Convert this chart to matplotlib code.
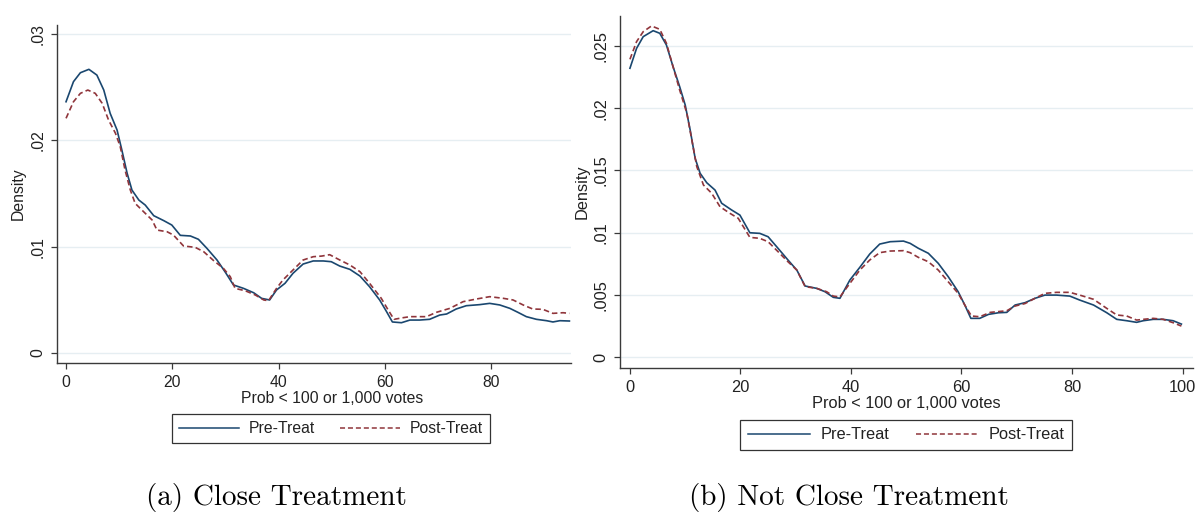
import matplotlib
matplotlib.use("Agg")
import matplotlib.pyplot as plt
from matplotlib.lines import Line2D

plt.rcParams['font.family'] = ['Liberation Sans', 'DejaVu Sans']

# ---------------- data ----------------
close_pre_x = [0.0, 1.4, 2.7, 4.3, 5.8, 7.1, 8.3, 9.6, 10.5, 11.5, 12.4, 13.7, 14.9, 16.5, 18.4, 19.9,
               21.5, 23.4, 24.9, 26.5, 28.4, 29.9, 31.5, 33.4, 35.3, 36.8, 38.3, 39.6, 41.2, 42.7, 44.6,
               46.5, 48.4, 49.9, 51.5, 53.4, 55.3, 57.1, 59.0, 60.3, 61.4, 63.1, 64.7, 66.5, 68.4, 70.3,
               71.6, 73.4, 75.3, 77.8, 79.7, 81.6, 83.5, 85.0, 86.6, 88.5, 90.4, 91.6, 92.9, 94.7]
close_pre = [.02364, .02553, .02637, .02669, .02615, .02474, .02255, .02098, .0191, .0169, .01533, .01439,
             .01392, .01292, .01245, .01204, .01107, .01101, .0107, .00985, .00875, .00765, .0064, .00608,
             .00567, .00514, .00499, .00593, .00656, .0075, .00837, .00866, .00866, .00859, .00818, .00787,
             .00724, .00624, .00499, .00389, .00292, .00285, .0031, .0031, .00317, .00357, .00367, .00414,
             .00445, .00455, .00467, .00452, .0042, .00383, .00342, .00317, .00304, .00292, .00304, .00301]

close_post_x = [0.0, 1.4, 2.7, 4.1, 5.5, 6.8, 8.0, 9.3, 10.2, 11.1, 12.1, 13.0, 14.6, 16.2, 17.1, 19.0,
                20.2, 22.1, 24.3, 25.9, 27.8, 29.6, 30.9, 31.8, 33.7, 35.6, 37.2, 38.1, 39.6, 40.8, 42.7,
                44.6, 46.5, 48.1, 49.6, 51.5, 53.4, 55.3, 57.1, 59.3, 60.6, 61.7, 63.4, 64.7, 67.8, 69.7,
                72.2, 74.7, 77.2, 79.7, 82.2, 84.1, 86.0, 87.8, 89.7, 91.6, 93.5, 94.7]
close_post = [.02208, .02364, .02443, .02474, .02443, .02349, .02192, .02067, .01941, .01722, .01533, .01408,
              .01329, .01251, .01157, .01141, .0111, .01007, .00994, .00953, .00868, .00797, .00718, .00608,
              .00586, .00546, .00499, .00492, .00608, .00687, .00781, .00875, .00906, .00912, .00925, .00875,
              .00828, .00765, .00656, .00515, .00405, .00317, .00332, .00342, .00342, .00383, .0042, .00483,
              .00508, .0053, .00515, .00499, .00452, .00414, .00411, .00373, .00379, .00373]

notclose_pre_x = [0.0, 1.2, 2.4, 4.2, 5.4, 6.6, 7.8, 9.0, 10.0, 10.9, 11.8, 12.7, 13.9, 15.4, 16.6, 18.4,
                  19.9, 21.7, 23.5, 25.0, 26.8, 28.6, 30.2, 31.7, 33.8, 35.3, 36.8, 38.0, 39.8, 41.6, 43.4,
                  45.2, 47.1, 49.5, 50.7, 52.2, 54.0, 55.8, 57.6, 59.4, 60.6, 61.7, 63.3, 64.9, 66.7, 68.2,
                  69.7, 71.5, 73.3, 75.1, 77.2, 79.6, 81.4, 83.9, 86.3, 88.1, 89.9, 91.7, 92.9, 94.7, 96.5,
                  98.3, 99.8]
notclose_pre = [.02321, .02481, .02575, .02623, .02602, .02508, .02334, .02173, .02026, .01825, .01597, .01477,
                .01401, .01342, .01236, .01182, .01141, .00999, .00994, .00967, .00874, .0078, .00699, .00571,
                .00552, .00525, .0048, .00472, .00619, .00721, .00828, .00908, .00927, .00932, .00914, .00874,
                .00834, .00753, .00646, .00525, .00418, .00311, .00311, .00343, .00356, .00359, .00418, .00437,
                .00472, .00498, .00498, .0049, .00458, .00418, .00356, .00303, .00292, .00279, .00292, .00303,
                .00303, .00292, .00265]

notclose_post_x = [0.0, 1.2, 2.4, 3.9, 5.4, 6.6, 7.8, 9.0, 10.3, 11.2, 12.1, 13.3, 14.8, 16.3, 18.1, 19.6,
                   21.7, 23.5, 25.0, 26.8, 28.6, 30.2, 31.7, 33.8, 35.6, 36.8, 38.0, 39.8, 41.6, 43.4, 45.2,
                   47.1, 49.5, 50.7, 52.2, 54.0, 55.8, 57.6, 59.4, 60.6, 61.8, 63.3, 65.2, 68.2, 69.7, 71.5,
                   73.3, 75.1, 77.2, 79.6, 81.4, 83.9, 86.3, 88.1, 89.9, 91.7, 92.9, 94.7, 96.5, 98.3, 99.8]
notclose_post = [.02393, .02535, .02615, .02661, .02634, .02522, .02334, .02146, .01959, .01744, .0153, .01383,
                 .01316, .01208, .01155, .01115, .00962, .00954, .00927, .00847, .00766, .00699, .00566, .00552,
                 .00525, .0049, .00483, .00592, .00699, .0078, .00839, .00852, .00855, .00839, .00801, .00766,
                 .00699, .00605, .00512, .00418, .0033, .00324, .00359, .00372, .0041, .0043, .00472, .00512,
                 .0052, .0052, .00498, .00464, .00391, .00338, .0033, .00297, .00303, .00311, .00303, .00276,
                 .00249]

left_yticks = [0, 0.01, 0.02, 0.03]
left_yticklabels = ["0", ".01", ".02", ".03"]
left_xticks = [0, 20, 40, 60, 80]
right_yticks = [0, 0.005, 0.01, 0.015, 0.02, 0.025]
right_yticklabels = ["0", ".005", ".01", ".015", ".02", ".025"]
right_xticks = [0, 20, 40, 60, 80, 100]

series_labels = ["Pre-Treat", "Post-Treat"]
captions = ["(a) Close Treatment", "(b) Not Close Treatment"]
xlabel = "Prob < 100 or 1,000 votes"
ylabel = "Density"

# ---------------- style ----------------
W, H = 1198, 517
fig = plt.figure(figsize=(W / 100, H / 100), dpi=100)

BLUE = "#1a476f"
RED = "#90353b"
GRID = "#e6eef2"
AX = "#3a3a3a"
TXT = "#222222"
DASH = (0, (3.3, 1.9))


def px_axes(l, t, r, b):
    return fig.add_axes([l / W, 1 - b / H, (r - l) / W, (b - t) / H])


def style(ax, box, fs, xt, yt, ytl, xlim, ylim, xlab_px, xlab_gap, ylab_px, leg_center, leg_top):
    l, t, r, b = box
    ax.set_xlim(*xlim)
    ax.set_ylim(*ylim)
    for s in ["top", "right"]:
        ax.spines[s].set_visible(False)
    for s in ["left", "bottom"]:
        ax.spines[s].set_color(AX)
        ax.spines[s].set_linewidth(1.0)
    ax.set_xticks(xt)
    ax.set_yticks(yt)
    ax.set_yticklabels(ytl)
    ax.tick_params(axis="both", length=4.5, width=0.9, color=AX, labelsize=fs, labelcolor=TXT, pad=4)
    for lab in ax.get_yticklabels():
        lab.set_rotation(90)
        lab.set_va("center")
    ax.grid(axis="y", color=GRID, linewidth=1.0)
    ax.set_axisbelow(True)
    ax.set_xlabel(xlabel, fontsize=fs, color=TXT, labelpad=0)
    ax.xaxis.set_label_coords((xlab_px - l) / (r - l), -xlab_gap / (b - t))
    ax.set_ylabel(ylabel, fontsize=fs, color=TXT)
    ax.yaxis.set_label_coords((ylab_px - l) / (r - l), 0.5)
    handles = [Line2D([], [], color=BLUE, lw=1.1),
               Line2D([], [], color=RED, lw=1.1, ls=DASH)]
    leg = fig.legend(handles, series_labels, ncol=2, loc="upper center",
                     bbox_to_anchor=(leg_center / W, 1 - leg_top / H),
                     frameon=True, fancybox=False, edgecolor="#333333", fontsize=fs,
                     handlelength=3.8, columnspacing=1.6, handletextpad=0.65,
                     borderpad=0.45, borderaxespad=0, framealpha=1.0)
    leg.get_frame().set_linewidth(0.9)
    for txt in leg.get_texts():
        txt.set_color(TXT)


boxL = (57, 25, 571, 363)
axL = px_axes(*boxL)
axL.plot(close_pre_x, close_pre, color=BLUE, lw=1.2, zorder=3)
axL.plot(close_post_x, close_post, color=RED, lw=1.2, ls=DASH, zorder=3)
style(axL, boxL, 11.3, left_xticks, left_yticks, left_yticklabels, (-1.7, 95.0), (-0.00094, 0.03086),
      332, 28, 26, 331, 414)

boxR = (620, 16, 1193, 368)
axR = px_axes(*boxR)
axR.plot(notclose_pre_x, notclose_pre, color=BLUE, lw=1.2, zorder=3)
axR.plot(notclose_post_x, notclose_post, color=RED, lw=1.2, ls=DASH, zorder=3)
style(axR, boxR, 11.8, right_xticks, right_yticks, right_yticklabels, (-1.8, 101.9), (-0.00088, 0.02741),
      906, 28, 590, 906, 420)

fig.text(276 / W, 1 - 497 / H, captions[0], family=["cmr10", "DejaVu Serif"], fontsize=21,
         ha="center", va="center")
fig.text(849 / W, 1 - 497 / H, captions[1], family=["cmr10", "DejaVu Serif"], fontsize=21,
         ha="center", va="center")

fig.savefig("out.png", dpi=100)
